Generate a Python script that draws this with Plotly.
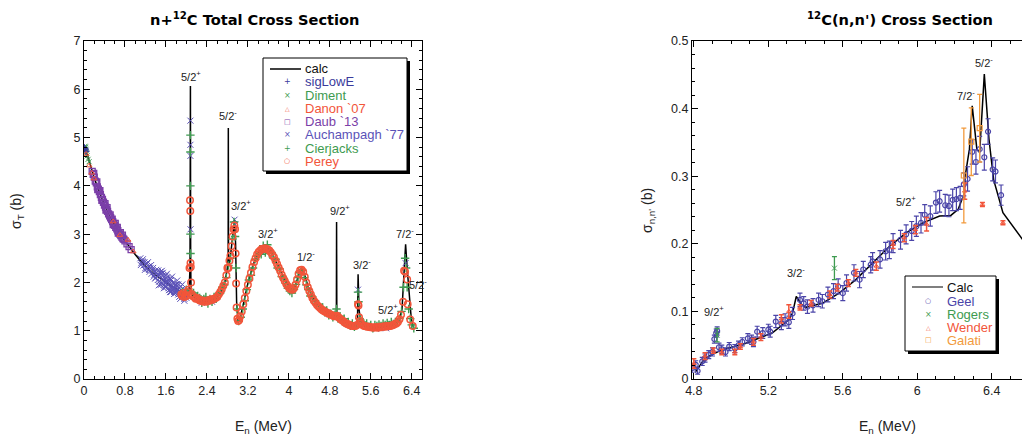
import plotly.graph_objects as go

# ---------------- Left panel: n+12C total cross section ----------------
calc_E = [0.02, 0.05, 0.10, 0.15, 0.20, 0.30, 0.40, 0.50, 0.60, 0.70, 0.80, 0.90, 1.00, 1.10, 1.20,
          1.30, 1.40, 1.50, 1.60, 1.70, 1.80, 1.90, 2.00, 2.05, 2.07, 2.078, 2.083, 2.09, 2.12, 2.20,
          2.30, 2.40, 2.50, 2.60, 2.70, 2.76, 2.80, 2.815, 2.818, 2.822, 2.86, 2.90, 2.94, 2.96, 2.98,
          3.01, 3.04, 3.10, 3.20, 3.30, 3.40, 3.50, 3.57, 3.65, 3.75, 3.85, 3.95, 4.05, 4.10, 4.16,
          4.22, 4.25, 4.30, 4.38, 4.46, 4.55, 4.65, 4.75, 4.85, 4.928, 4.932, 4.937, 5.00, 5.10, 5.20,
          5.30, 5.34, 5.352, 5.37, 5.40, 5.50, 5.60, 5.70, 5.80, 5.90, 6.00, 6.10, 6.16, 6.21, 6.25,
          6.28, 6.31, 6.33, 6.36, 6.39, 6.43]
calc_sig = [4.78, 4.70, 4.52, 4.33, 4.16, 3.87, 3.60, 3.38, 3.18, 3.00, 2.86, 2.71, 2.58, 2.45, 2.34,
            2.24, 2.15, 2.07, 2.00, 1.93, 1.87, 1.81, 1.77, 1.78, 2.30, 6.07, 2.40, 1.85, 1.72, 1.66,
            1.62, 1.61, 1.63, 1.69, 1.84, 2.05, 2.30, 2.50, 5.20, 2.35, 2.55, 2.95, 3.29, 2.80, 1.60,
            1.18, 1.22, 1.50, 1.98, 2.36, 2.60, 2.72, 2.74, 2.64, 2.43, 2.22, 2.00, 1.86, 1.86, 2.05,
            2.26, 2.29, 2.18, 1.90, 1.70, 1.55, 1.45, 1.38, 1.33, 1.31, 3.25, 1.30, 1.26, 1.18, 1.13,
            1.11, 1.14, 2.17, 1.45, 1.20, 1.10, 1.08, 1.07, 1.07, 1.08, 1.10, 1.15, 1.23, 1.45, 2.10,
            2.79, 2.30, 2.05, 1.55, 1.25, 1.08]

siglow_E = [0.01, 0.015, 0.02, 0.03, 0.04]
siglow_sig = [4.79, 4.77, 4.76, 4.74, 4.71]

diment_E = [0.01, 0.015, 0.02, 0.025, 0.03, 0.035, 0.04, 0.05, 0.06, 0.08, 0.10, 0.02, 0.03]
diment_sig = [4.80, 4.75, 4.78, 4.72, 4.76, 4.70, 4.74, 4.68, 4.62, 4.55, 4.50, 4.82, 4.80]

danon_E = [0.04, 0.10, 0.15, 0.195, 0.57, 0.70, 0.86, 0.96]
danon_sig = [4.66, 4.42, 4.27, 4.15, 3.26, 2.98, 2.88, 2.64]

daub_E = [0.16, 0.18, 0.20, 0.22, 0.24, 0.26, 0.28, 0.30, 0.32, 0.34, 0.36, 0.38, 0.40, 0.42, 0.44,
          0.46, 0.48, 0.50, 0.52, 0.54, 0.56, 0.58, 0.60, 0.62, 0.64, 0.66, 0.68, 0.70, 0.72, 0.74,
          0.76, 0.78, 0.80, 0.84, 0.88, 0.92, 0.19, 0.25, 0.31, 0.35, 0.41, 0.45, 0.51, 0.55, 0.61,
          0.65, 0.71, 0.75, 0.27, 0.43, 0.57, 0.67]
daub_sig = [4.30, 4.24, 4.18, 4.10, 4.06, 3.98, 3.93, 3.88, 3.82, 3.76, 3.72, 3.66, 3.60, 3.56, 3.51,
            3.47, 3.42, 3.38, 3.34, 3.30, 3.26, 3.22, 3.18, 3.14, 3.11, 3.07, 3.03, 3.00, 2.97, 2.94,
            2.91, 2.89, 2.86, 2.80, 2.74, 2.68, 4.26, 4.08, 3.90, 3.70, 3.63, 3.55, 3.40, 3.31, 3.22,
            3.14, 3.03, 2.98, 3.92, 3.50, 3.20, 3.02]

auch_E = [1.10, 1.12, 1.14, 1.16, 1.18, 1.20, 1.22, 1.24, 1.26, 1.28, 1.30, 1.32, 1.34, 1.36, 1.38,
          1.40, 1.42, 1.44, 1.46, 1.48, 1.50, 1.52, 1.54, 1.56, 1.58, 1.60, 1.62, 1.64, 1.66, 1.68,
          1.70, 1.72, 1.74, 1.76, 1.78, 1.80, 1.82, 1.84, 1.86, 1.88, 1.90, 1.92, 1.94, 1.96, 1.98,
          2.00, 2.02, 1.45, 1.55, 1.65, 1.75, 1.85, 1.35, 1.50, 1.60, 1.70, 1.25, 1.43, 1.53, 1.63,
          1.73, 1.83, 1.93, 1.11, 1.15, 1.19, 1.23, 1.27, 1.31, 1.37, 1.41, 1.47, 1.51, 1.57, 1.61,
          1.67, 1.71, 1.77, 1.81, 1.87, 1.91, 1.97, 1.39, 1.49, 1.59, 1.69, 1.79, 1.89,
          1.46, 1.52, 1.56, 1.62, 1.66, 1.72, 1.76, 1.82, 1.86, 1.92, 1.96, 1.54, 1.64, 1.74, 1.84,
          1.94, 1.58, 1.68, 1.78, 1.88,
          2.078, 2.078, 2.078, 2.08, 2.94, 2.95, 5.35, 6.28, 2.30, 2.50, 3.55,
          4.25, 5.70, 5.90, 4.80]
auch_sig = [2.50, 2.40, 2.44, 2.35, 2.42, 2.30, 2.38, 2.28, 2.33, 2.22, 2.30, 2.18, 2.25, 2.12, 2.22,
            2.10, 2.20, 2.05, 2.15, 2.02, 2.12, 1.98, 2.20, 1.95, 2.08, 1.90, 2.10, 1.95, 2.02, 1.85,
            2.05, 1.88, 1.98, 1.80, 1.95, 1.82, 1.92, 1.75, 1.88, 1.72, 1.85, 1.70, 1.80, 1.66, 1.78,
            1.68, 1.75, 2.25, 2.05, 1.88, 1.92, 1.80, 2.30, 1.95, 2.15, 1.80, 2.42, 2.14, 2.08, 2.02,
            1.86, 1.86, 1.76, 2.36, 2.48, 2.26, 2.40, 2.26, 2.36, 2.16, 2.26, 2.02, 2.18, 1.92, 2.02,
            1.98, 1.92, 1.88, 1.96, 1.82, 1.78, 1.74, 2.08, 2.22, 1.98, 2.08, 1.78, 1.92,
            1.94, 2.24, 1.88, 2.18, 1.84, 2.12, 1.76, 2.04, 1.70, 1.96, 1.62, 2.14, 2.06, 2.00, 1.96,
            1.86, 2.00, 1.80, 1.86, 1.66,
            5.35, 4.85, 4.62, 3.10, 3.30, 3.20, 1.85, 2.40, 1.58, 1.60, 2.65,
            2.20, 1.04, 1.05, 1.34]

cier_E = [1.92, 1.96, 2.00, 2.03, 2.078, 2.078, 2.078, 2.078, 2.08, 2.10, 2.14, 2.18, 2.22, 2.26, 2.30,
          2.34, 2.38, 2.42, 2.46, 2.50, 2.54, 2.58, 2.62, 2.66, 2.70, 2.74, 2.78, 2.82, 2.86, 2.90,
          2.93, 2.95, 2.97, 2.99, 3.02, 3.06, 3.10, 3.14, 3.18, 3.22, 3.26, 3.30, 3.34, 3.38, 3.42,
          3.46, 3.50, 3.54, 3.58, 3.62, 3.66, 3.70, 3.74, 3.78, 3.82, 3.86, 3.90, 3.94, 3.98, 4.02,
          4.06, 4.10, 4.14, 4.18, 4.22, 4.26, 4.30, 4.34, 4.38, 4.42, 4.46, 4.50, 4.54, 4.58, 4.62,
          4.66, 4.70, 4.74, 4.78, 4.82, 4.86, 4.90, 4.93, 4.96, 5.00, 5.04, 5.08, 5.12, 5.16, 5.20,
          5.24, 5.28, 5.32, 5.35, 5.36, 5.38, 5.40, 5.44, 5.48, 5.52, 5.56, 5.60, 5.64, 5.68, 5.72,
          5.76, 5.80, 5.84, 5.88, 5.92, 5.96, 6.00, 6.04, 6.08, 6.12, 6.16, 6.20, 6.24, 6.27, 6.29,
          6.31, 6.34, 6.37, 6.40, 6.44]
cier_sig = [1.80, 1.75, 1.85, 1.78, 5.05, 4.70, 4.00, 3.00, 2.60, 1.80, 1.78, 1.70, 1.72, 1.68, 1.58,
            1.66, 1.70, 1.56, 1.66, 1.60, 1.70, 1.66, 1.74, 1.78, 1.90, 1.95, 2.10, 2.35, 2.50, 2.90,
            3.25, 2.95, 2.30, 1.45, 1.20, 1.28, 1.45, 1.62, 1.85, 2.05, 2.15, 2.30, 2.48, 2.55, 2.60,
            2.58, 2.76, 2.62, 2.78, 2.60, 2.62, 2.50, 2.48, 2.30, 2.28, 2.12, 2.08, 1.98, 1.88, 1.82,
            1.78, 1.86, 1.96, 2.10, 2.20, 2.25, 2.10, 1.95, 1.85, 1.72, 1.70, 1.60, 1.56, 1.55, 1.45,
            1.48, 1.38, 1.42, 1.32, 1.35, 1.28, 1.33, 1.45, 1.25, 1.30, 1.20, 1.25, 1.15, 1.18, 1.10,
            1.15, 1.08, 1.12, 1.80, 1.60, 1.25, 1.22, 1.18, 1.10, 1.15, 1.08, 1.12, 1.05, 1.12, 1.10,
            1.13, 1.10, 1.15, 1.12, 1.16, 1.12, 1.18, 1.14, 1.18, 1.18, 1.25, 1.40, 1.90, 2.50, 2.30,
            1.90, 1.45, 1.25, 1.12, 1.05]

perey_E = [1.90, 1.92, 1.94, 1.96, 1.98, 2.00, 2.02, 2.04, 2.06, 2.07, 2.075, 2.08, 2.085, 2.09, 2.10,
           2.12, 2.15, 2.18, 2.21, 2.24, 2.27, 2.30, 2.33, 2.36, 2.39, 2.42, 2.45, 2.48, 2.51, 2.54,
           2.57, 2.60, 2.63, 2.66, 2.69, 2.72, 2.75, 2.78, 2.80, 2.82, 2.84, 2.86, 2.88, 2.90, 2.92,
           2.935, 2.95, 2.96, 2.97, 2.98, 2.995, 3.01, 3.03, 3.05, 3.08, 3.11, 3.14, 3.17, 3.20, 3.23,
           3.26, 3.29, 3.32, 3.35, 3.38, 3.41, 3.44, 3.47, 3.50, 3.53, 3.56, 3.59, 3.62, 3.65, 3.68,
           3.71, 3.74, 3.77, 3.80, 3.83, 3.86, 3.89, 3.92, 3.95, 3.98, 4.01, 4.04, 4.07, 4.10, 4.13,
           4.16, 4.19, 4.22, 4.25, 4.28, 4.31, 4.34, 4.37, 4.40, 4.43, 4.46, 4.49, 4.52, 4.55, 4.58,
           4.61, 4.64, 4.67, 4.70, 4.73, 4.76, 4.79, 4.82, 4.85, 4.88, 4.91, 4.94, 4.97, 5.00, 5.03,
           5.06, 5.09, 5.12, 5.15, 5.18, 5.21, 5.24, 5.27, 5.30, 5.33, 5.35, 5.36, 5.37, 5.39, 5.41,
           5.44, 5.47, 5.50, 5.53, 5.56, 5.59, 5.62, 5.65, 5.68, 5.71, 5.74, 5.77, 5.80, 5.83, 5.86,
           5.89, 5.92, 5.95, 5.98, 6.01, 6.04, 6.07, 6.10, 6.13, 6.16, 6.19, 6.23, 6.25, 6.27, 6.31,
           6.32, 6.37, 6.42]
perey_sig = [1.75, 1.72, 1.78, 1.70, 1.74, 1.72, 1.80, 1.85, 2.30, 3.70, 3.48, 2.40, 2.32, 2.00, 1.76,
             1.72, 1.70, 1.66, 1.68, 1.64, 1.62, 1.63, 1.60, 1.62, 1.60, 1.63, 1.62, 1.65, 1.64, 1.66,
             1.68, 1.70, 1.75, 1.80, 1.86, 1.93, 2.00, 2.15, 2.30, 2.30, 2.45, 2.55, 2.75, 2.95, 3.10,
             3.18, 3.10, 2.60, 1.98, 1.48, 1.25, 1.20, 1.22, 1.30, 1.40, 1.55, 1.68, 1.82, 1.95, 2.08,
             2.20, 2.32, 2.42, 2.50, 2.58, 2.63, 2.66, 2.69, 2.70, 2.71, 2.70, 2.68, 2.66, 2.62, 2.57,
             2.52, 2.45, 2.38, 2.31, 2.24, 2.16, 2.09, 2.03, 1.97, 1.92, 1.88, 1.86, 1.85, 1.88, 1.95,
             2.06, 2.18, 2.25, 2.26, 2.22, 2.12, 2.00, 1.90, 1.82, 1.75, 1.68, 1.62, 1.58, 1.53, 1.50,
             1.47, 1.44, 1.42, 1.40, 1.38, 1.36, 1.35, 1.33, 1.32, 1.30, 1.30, 1.31, 1.28, 1.25, 1.22,
             1.20, 1.17, 1.15, 1.14, 1.12, 1.11, 1.10, 1.10, 1.10, 1.12, 1.55, 1.52, 1.28, 1.20, 1.15,
             1.12, 1.10, 1.09, 1.08, 1.08, 1.07, 1.07, 1.06, 1.07, 1.07, 1.06, 1.08, 1.07, 1.08, 1.09,
             1.08, 1.10, 1.09, 1.10, 1.11, 1.12, 1.14, 1.15, 1.18, 1.24, 1.33, 1.60, 2.24, 2.22, 2.06,
             1.55, 1.23, 1.10]

left_labels = ["5/2<sup>+</sup>", "5/2<sup>-</sup>", "3/2<sup>+</sup>", "3/2<sup>+</sup>", "1/2<sup>-</sup>",
               "9/2<sup>+</sup>", "3/2<sup>-</sup>", "5/2<sup>+</sup>", "7/2<sup>-</sup>", "5/2<sup>-</sup>"]
left_label_E = [2.08, 2.82, 3.06, 3.60, 4.34, 5.00, 5.42, 5.93, 6.27, 6.53]
left_label_sig = [6.27, 5.47, 3.60, 3.02, 2.55, 3.50, 2.38, 1.45, 3.02, 1.97]

# ---------------- Right panel: 12C(n,n') cross section ----------------
calc2_E = [4.81, 4.86, 4.95, 5.08, 5.22, 5.31, 5.33, 5.35, 5.38, 5.40, 5.49, 5.58, 5.67, 5.76, 5.85,
           5.94, 6.03, 6.12, 6.18, 6.22, 6.24, 6.25, 6.26, 6.28, 6.295, 6.32, 6.335, 6.36, 6.385, 6.41,
           6.46, 6.585]
calc2_sig = [0.011, 0.031, 0.043, 0.053, 0.068, 0.0875, 0.0975, 0.122, 0.110, 0.106, 0.112, 0.127,
             0.147, 0.172, 0.196, 0.216, 0.231, 0.241, 0.242, 0.251, 0.266, 0.270, 0.305, 0.340, 0.404,
             0.340, 0.335, 0.451, 0.355, 0.295, 0.246, 0.199]

geel_E = [4.79, 4.81, 4.82, 4.845, 4.86, 4.88, 4.90, 4.91, 4.92, 4.925, 4.935, 4.95, 4.97, 4.99, 5.02,
          5.04, 5.06, 5.09, 5.11, 5.12, 5.14, 5.17, 5.20, 5.21, 5.24, 5.27, 5.29, 5.31, 5.33, 5.37,
          5.39, 5.41, 5.44, 5.47, 5.49, 5.52, 5.55, 5.575, 5.60, 5.62, 5.66, 5.69, 5.71, 5.75, 5.76,
          5.80, 5.83, 5.85, 5.87, 5.91, 5.94, 5.97, 5.995, 6.02, 6.04, 6.07, 6.10, 6.12, 6.15, 6.17,
          6.19, 6.21, 6.23, 6.25, 6.27, 6.295, 6.315, 6.335, 6.36, 6.38, 6.405, 6.42, 6.45]
geel_sig = [0.016, 0.021, 0.012, 0.026, 0.031, 0.036, 0.040, 0.059, 0.068, 0.071, 0.047, 0.044, 0.040,
            0.048, 0.045, 0.050, 0.055, 0.060, 0.058, 0.055, 0.070, 0.068, 0.073, 0.070, 0.085, 0.082,
            0.0875, 0.084, 0.097, 0.117, 0.112, 0.107, 0.109, 0.117, 0.115, 0.125, 0.130, 0.137, 0.127,
            0.142, 0.157, 0.147, 0.162, 0.169, 0.174, 0.177, 0.189, 0.191, 0.201, 0.206, 0.214, 0.219,
            0.226, 0.231, 0.243, 0.241, 0.261, 0.263, 0.257, 0.256, 0.265, 0.266, 0.268, 0.288, 0.296,
            0.336, 0.321, 0.340, 0.328, 0.366, 0.310, 0.307, 0.272]
geel_err = [0.006, 0.006, 0.005, 0.006, 0.006, 0.006, 0.006, 0.006, 0.006, 0.006, 0.006, 0.006, 0.006,
            0.006, 0.006, 0.006, 0.006, 0.007, 0.007, 0.007, 0.008, 0.008, 0.008, 0.008, 0.009, 0.009,
            0.009, 0.009, 0.009, 0.010, 0.010, 0.010, 0.010, 0.010, 0.010, 0.011, 0.011, 0.011, 0.011,
            0.012, 0.012, 0.012, 0.012, 0.012, 0.013, 0.013, 0.013, 0.013, 0.014, 0.014, 0.014, 0.014,
            0.015, 0.015, 0.015, 0.015, 0.016, 0.016, 0.016, 0.016, 0.016, 0.017, 0.017, 0.017, 0.018,
            0.018, 0.018, 0.019, 0.019, 0.019, 0.017, 0.017, 0.015]

rogers_E = [4.925, 5.555, 6.59]
rogers_sig = [0.065, 0.164, 0.221]
rogers_err = [0.010, 0.017, 0.021]

wender_E = [4.80, 4.86, 4.905, 4.95, 5.02, 5.05, 5.12, 5.16, 5.27, 5.31, 5.37, 5.43, 5.53, 5.57, 5.63,
            5.67, 5.78, 5.87, 5.93, 5.99, 6.05, 6.255, 6.35, 6.46]
wender_sig = [0.023, 0.034, 0.042, 0.040, 0.040, 0.048, 0.055, 0.062, 0.089, 0.100, 0.106, 0.112, 0.125,
              0.135, 0.142, 0.157, 0.167, 0.199, 0.209, 0.221, 0.229, 0.278, 0.258, 0.231]
wender_err = [0.007, 0.005, 0.004, 0.004, 0.004, 0.004, 0.005, 0.005, 0.006, 0.010, 0.004, 0.004, 0.005,
              0.005, 0.005, 0.005, 0.006, 0.006, 0.006, 0.006, 0.010, 0.012, 0.003, 0.003]

galati_E = [6.25, 6.29, 6.335]
galati_sig = [0.301, 0.351, 0.371]
galati_err = [0.07, 0.05, 0.05]

right_labels = ["9/2<sup>+</sup>", "3/2<sup>-</sup>", "5/2<sup>+</sup>", "7/2<sup>-</sup>", "5/2<sup>-</sup>"]
right_label_E = [4.908, 5.35, 5.94, 6.26, 6.36]
right_label_sig = [0.100, 0.158, 0.263, 0.420, 0.469]

# ---------------- colours ----------------
C_SIGLOW = "#3a3a9c"
C_GREEN = "#3e9b50"
C_RED = "#f2553a"
C_PURPLE = "#7b3fa8"
C_AUCH = "#5b52b8"
C_GEEL = "#4a44a8"
C_ORANGE = "#f29a3c"

fig = go.Figure()

# left traces
fig.add_trace(go.Scatter(x=calc_E, y=calc_sig, mode="lines", line=dict(color="black", width=1.5),
                         xaxis="x", yaxis="y", showlegend=False))
fig.add_trace(go.Scatter(x=auch_E, y=auch_sig, mode="markers", xaxis="x", yaxis="y", showlegend=False,
                         marker=dict(symbol="x-thin", size=6, line=dict(color=C_AUCH, width=1))))
fig.add_trace(go.Scatter(x=daub_E, y=daub_sig, mode="markers", xaxis="x", yaxis="y", showlegend=False,
                         marker=dict(symbol="square-open", size=6, color=C_PURPLE, line=dict(width=1.3))))
fig.add_trace(go.Scatter(x=diment_E, y=diment_sig, mode="markers", xaxis="x", yaxis="y", showlegend=False,
                         marker=dict(symbol="x-thin", size=5, line=dict(color=C_GREEN, width=1))))
fig.add_trace(go.Scatter(x=siglow_E, y=siglow_sig, mode="markers", xaxis="x", yaxis="y", showlegend=False,
                         marker=dict(symbol="cross-thin", size=5, line=dict(color=C_SIGLOW, width=1))))
fig.add_trace(go.Scatter(x=danon_E, y=danon_sig, mode="markers", xaxis="x", yaxis="y", showlegend=False,
                         marker=dict(symbol="triangle-up-open", size=5, color=C_RED, line=dict(width=1))))
fig.add_trace(go.Scatter(x=cier_E, y=cier_sig, mode="markers", xaxis="x", yaxis="y", showlegend=False,
                         marker=dict(symbol="cross-thin", size=6, line=dict(color=C_GREEN, width=1.4))))
fig.add_trace(go.Scatter(x=perey_E, y=perey_sig, mode="markers", xaxis="x", yaxis="y", showlegend=False,
                         marker=dict(symbol="circle-open", size=6.5, color=C_RED, line=dict(width=1.5))))

# right traces
fig.add_trace(go.Scatter(x=calc2_E, y=calc2_sig, mode="lines", line=dict(color="black", width=1.5),
                         xaxis="x2", yaxis="y2", showlegend=False))
fig.add_trace(go.Scatter(x=geel_E, y=geel_sig, mode="markers", xaxis="x2", yaxis="y2", showlegend=False,
                         marker=dict(symbol="circle-open", size=5, color=C_GEEL, line=dict(width=1.2)),
                         error_y=dict(type="data", array=geel_err, color=C_GEEL, thickness=1.2, width=2.5)))
fig.add_trace(go.Scatter(x=wender_E, y=wender_sig, mode="markers", xaxis="x2", yaxis="y2", showlegend=False,
                         marker=dict(symbol="triangle-up-open", size=4, color=C_RED, line=dict(width=1)),
                         error_y=dict(type="data", array=wender_err, color=C_RED, thickness=1.5, width=2.5)))
fig.add_trace(go.Scatter(x=rogers_E, y=rogers_sig, mode="markers", xaxis="x2", yaxis="y2", showlegend=False,
                         marker=dict(symbol="x-thin", size=5, line=dict(color=C_GREEN, width=1)),
                         error_y=dict(type="data", array=rogers_err, color=C_GREEN, thickness=1.3, width=2.5)))
fig.add_trace(go.Scatter(x=galati_E, y=galati_sig, mode="markers", xaxis="x2", yaxis="y2", showlegend=False,
                         marker=dict(symbol="square-open", size=5, color=C_ORANGE, line=dict(width=1.2)),
                         error_y=dict(type="data", array=galati_err, color=C_ORANGE, thickness=1.3, width=2.5)))

# ---------------- layout ----------------
# the page body adds an 8px offset; positions below are given in screenshot pixels
OFF = 8
W, H = 1022, 438
L = 84 - OFF
T = 41 - OFF
B = H - (379 - OFF)
R = W - (1029 - OFF)
PW, PH = W - L - R, H - T - B


def fx(px):
    return (px - OFF - L) / PW


def fy(py):
    return (H - B - (py - OFF)) / PH


FONT = "Liberation Sans, Arial, sans-serif"
TFONT = "DejaVu Sans, sans-serif"
axis_common = dict(showline=True, linecolor="black", linewidth=1, mirror="ticks", ticks="inside",
                   ticklen=6, tickcolor="black", showgrid=False, zeroline=False,
                   tickfont=dict(family=FONT, size=12.5, color="#222"))

fig.update_layout(
    width=W, height=H, margin=dict(l=L, r=R, t=T, b=B), plot_bgcolor="white", paper_bgcolor="white",
    showlegend=False,
    xaxis=dict(domain=[0, fx(422)], range=[0, 6.6], tickmode="linear", tick0=0, dtick=0.8,
               minor=dict(dtick=0.2, ticklen=3, ticks="inside", tickcolor="black"), **axis_common),
    yaxis=dict(domain=[0, 1], range=[0, 7], tickmode="linear", tick0=0, dtick=1,
               minor=dict(dtick=0.2, ticklen=3, ticks="inside", tickcolor="black"), **axis_common),
    xaxis2=dict(domain=[fx(692), 1], range=[4.79, 6.6], anchor="y2", tickmode="linear", tick0=4.8, dtick=0.4,
                minor=dict(dtick=0.1, ticklen=3, ticks="inside", tickcolor="black"), **axis_common),
    yaxis2=dict(domain=[0, 1], range=[0, 0.5], anchor="x2", tickmode="linear", tick0=0, dtick=0.1,
                minor=dict(dtick=0.02, ticklen=3, ticks="inside", tickcolor="black"), **axis_common),
)

ann = []
shapes = []

# titles
ann.append(dict(text="<b>n+<sup>12</sup>C Total Cross Section</b>", x=fx(254), y=fy(19), xref="paper",
                yref="paper", showarrow=False, xanchor="center", yanchor="middle",
                font=dict(family=TFONT, size=14.6, color="black")))
ann.append(dict(text="<b><sup>12</sup>C(n,n') Cross Section</b>", x=fx(900), y=fy(19), xref="paper",
                yref="paper", showarrow=False, xanchor="center", yanchor="middle",
                font=dict(family=TFONT, size=14.6, color="black")))
# axis titles
for cx in (263, 887):
    ann.append(dict(text="E<sub>n</sub> (MeV)", x=fx(cx), y=fy(427), xref="paper", yref="paper",
                    showarrow=False, xanchor="center", yanchor="middle",
                    font=dict(family=FONT, size=14, color="#222")))
ann.append(dict(text="σ<sub>T</sub> (b)", x=fx(17), y=fy(211), xref="paper", yref="paper", textangle=-90,
                showarrow=False, xanchor="center", yanchor="middle", font=dict(family=FONT, size=14, color="#222")))
ann.append(dict(text="σ<sub>n,n'</sub> (b)", x=fx(648), y=fy(211), xref="paper", yref="paper", textangle=-90,
                showarrow=False, xanchor="center", yanchor="middle", font=dict(family=FONT, size=14, color="#222")))

# J-pi labels
for t, e, s in zip(left_labels, left_label_E, left_label_sig):
    ann.append(dict(text=t, x=e, y=s, xref="x", yref="y", showarrow=False, xanchor="center",
                    yanchor="middle", font=dict(family=FONT, size=11, color="#222")))
for t, e, s in zip(right_labels, right_label_E, right_label_sig):
    ann.append(dict(text=t, x=e, y=s, xref="x2", yref="y2", showarrow=False, xanchor="center",
                    yanchor="middle", font=dict(family=FONT, size=11, color="#222")))


def legend_box(x0, y0, x1, y1, line_y, line_x0, line_x1, line_color, mark_x, text_x, entries):
    shapes.append(dict(type="rect", xref="paper", yref="paper", x0=fx(x0 + 3), x1=fx(x1 + 3), y0=fy(y1 + 3),
                       y1=fy(y0 + 3), fillcolor="black", line=dict(width=0), layer="above"))
    shapes.append(dict(type="rect", xref="paper", yref="paper", x0=fx(x0), x1=fx(x1), y0=fy(y1), y1=fy(y0),
                       fillcolor="white", line=dict(color="black", width=1), layer="above"))
    shapes.append(dict(type="line", xref="paper", yref="paper", x0=fx(line_x0), x1=fx(line_x1), y0=fy(line_y),
                       y1=fy(line_y), line=dict(color=line_color, width=1.5), layer="above"))
    for (sym, sym_size, name, col, yy) in entries:
        if sym:
            ann.append(dict(text=sym, x=fx(mark_x), y=fy(yy), xref="paper", yref="paper", showarrow=False,
                            xanchor="center", yanchor="middle", borderpad=0,
                            font=dict(family="DejaVu Sans", size=sym_size, color=col)))
        ann.append(dict(text=name, x=fx(text_x), y=fy(yy), xref="paper", yref="paper", showarrow=False,
                        xanchor="left", yanchor="middle", borderpad=0,
                        font=dict(family=FONT, size=13, color=col)))


legend_box(263, 58, 407, 171, 69, 270, 301, "black", 287, 304, [
    (None, 0, "calc", "#111", 69),
    ("+", 8, "sigLowE", C_SIGLOW, 82),
    ("×", 8, "Diment", C_GREEN, 95),
    ("△", 6, "Danon `07", C_RED, 108),
    ("□", 7, "Daub `13", C_PURPLE, 121.5),
    ("×", 8, "Auchampagh `77", C_AUCH, 135),
    ("+", 8, "Cierjacks", C_GREEN, 148),
    ("○", 7, "Perey", C_RED, 161),
])
legend_box(905, 276, 996, 351, 287, 912, 943, "#555", 928, 946, [
    (None, 0, "Calc", "#111", 287),
    ("○", 7, "Geel", C_GEEL, 301),
    ("×", 8, "Rogers", C_GREEN, 314),
    ("△", 6, "Wender", C_RED, 327),
    ("□", 7, "Galati", C_ORANGE, 340),
])

fig.update_layout(annotations=ann, shapes=shapes)
fig.write_html("out.html")
